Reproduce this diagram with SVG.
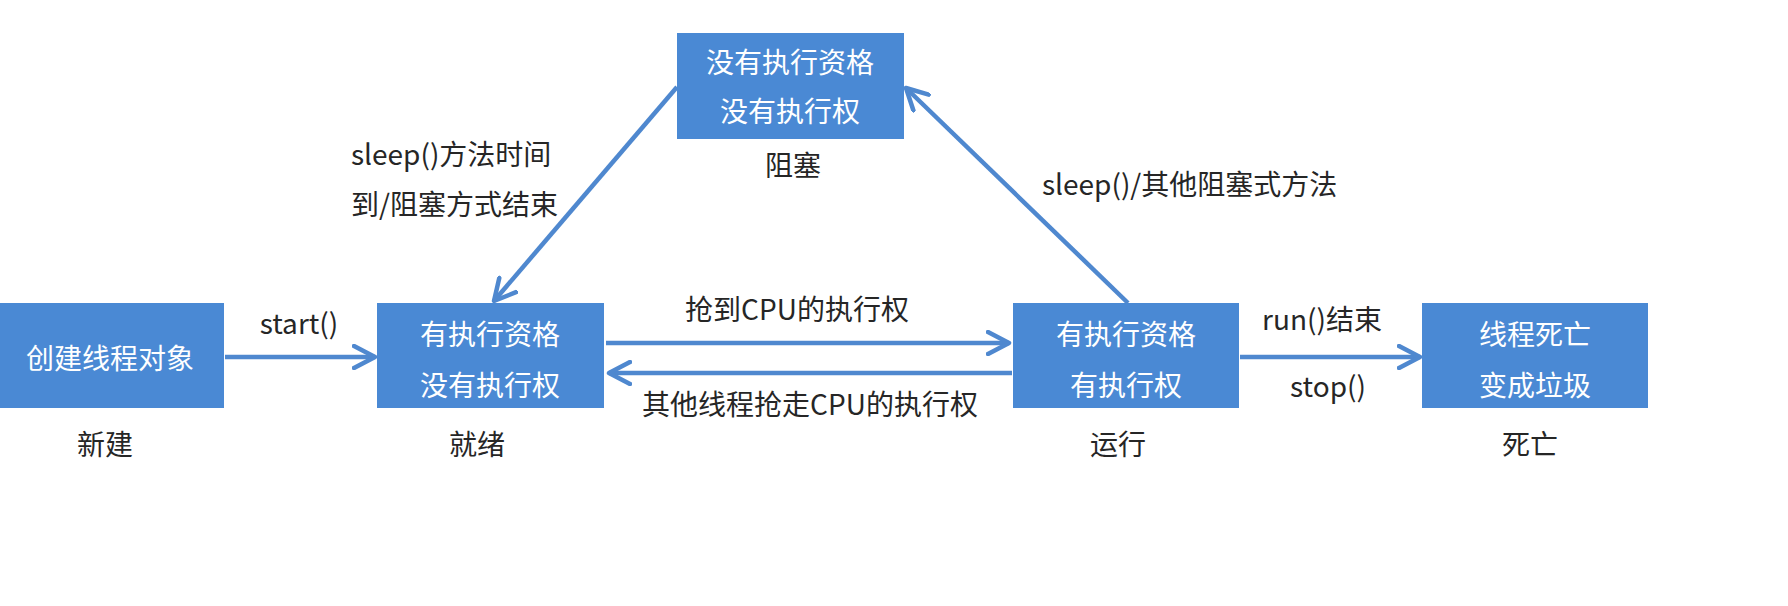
<svg xmlns="http://www.w3.org/2000/svg" width="1788" height="606" viewBox="0 0 1788 606">
<style>
.box{fill:#4a89d4}
.bt{fill:#ffffff;font-family:"Noto Sans CJK SC","Microsoft YaHei",sans-serif;font-size:28px;text-anchor:middle}
.lb{fill:#262626;font-family:"Noto Sans CJK SC","Microsoft YaHei",sans-serif;font-size:28px}
.mid{text-anchor:middle}
.edge{stroke:#4f88cf;stroke-width:4.5;fill:none}
</style>
<defs>
<marker id="arr" viewBox="0 0 26 26" refX="23" refY="13" markerWidth="26" markerHeight="26" markerUnits="userSpaceOnUse" orient="auto">
<path d="M2,2 L23,13 L2,24" fill="none" stroke="#4f88cf" stroke-width="4.5" stroke-linecap="round" stroke-linejoin="round"/>
</marker>
</defs>
<rect width="1788" height="606" fill="#ffffff"/>
<g id="connectors">
<line class="edge" x1="225" y1="357" x2="375" y2="357" marker-end="url(#arr)"/>
<line class="edge" x1="606" y1="343" x2="1009" y2="343" marker-end="url(#arr)"/>
<line class="edge" x1="1012" y1="373" x2="609" y2="373" marker-end="url(#arr)"/>
<line class="edge" x1="1240" y1="357" x2="1420" y2="357" marker-end="url(#arr)"/>
<line class="edge" x1="677" y1="87" x2="494" y2="301" marker-end="url(#arr)"/>
<line class="edge" x1="1128" y1="303" x2="906" y2="88" marker-end="url(#arr)"/>
<text class="lb mid" x="299" y="334">start()</text>
<text class="lb mid" x="797" y="320">抢到CPU的执行权</text>
<text class="lb mid" x="810" y="415">其他线程抢走CPU的执行权</text>
<text class="lb mid" x="1322" y="330">run()结束</text>
<text class="lb mid" x="1328" y="397">stop()</text>
<text class="lb" x="351" y="165">sleep()方法时间</text>
<text class="lb" x="351" y="215">到/阻塞方式结束</text>
<text class="lb" x="1042" y="195">sleep()/其他阻塞式方法</text>
</g>
<g id="node-new">
<rect class="box" x="0" y="303" width="224" height="105"/>
<text class="bt" x="110" y="369">创建线程对象</text>
<text class="lb mid" x="105" y="455">新建</text>
</g>
<g id="node-ready">
<rect class="box" x="377" y="303" width="227" height="105"/>
<text class="bt" x="490" y="345">有执行资格</text>
<text class="bt" x="490" y="396">没有执行权</text>
<text class="lb mid" x="477" y="455">就绪</text>
</g>
<g id="node-running">
<rect class="box" x="1013" y="303" width="226" height="105"/>
<text class="bt" x="1126" y="345">有执行资格</text>
<text class="bt" x="1126" y="396">有执行权</text>
<text class="lb mid" x="1118" y="455">运行</text>
</g>
<g id="node-dead">
<rect class="box" x="1422" y="303" width="226" height="105"/>
<text class="bt" x="1535" y="345">线程死亡</text>
<text class="bt" x="1535" y="396">变成垃圾</text>
<text class="lb mid" x="1530" y="455">死亡</text>
</g>
<g id="node-blocked">
<rect class="box" x="677" y="33" width="227" height="106"/>
<text class="bt" x="790" y="73">没有执行资格</text>
<text class="bt" x="790" y="122">没有执行权</text>
<text class="lb mid" x="793" y="176">阻塞</text>
</g>
</svg>
